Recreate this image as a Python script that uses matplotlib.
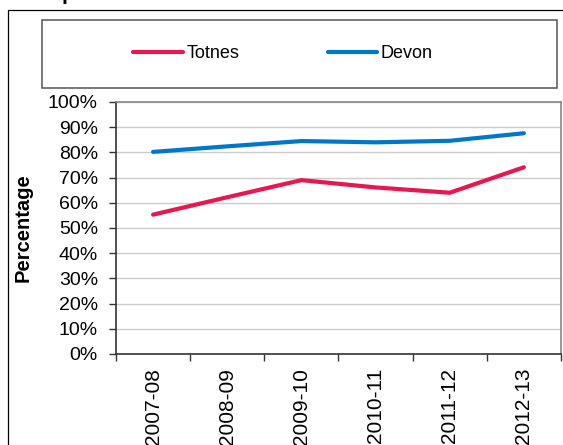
"""
Totnes vs Devon percentage trend, 2007-08 to 2012-13.
"""

import matplotlib.pyplot as plt
from matplotlib.patches import Rectangle
from matplotlib.ticker import FixedLocator

plt.rcParams["font.family"] = ["Liberation Sans", "DejaVu Sans"]

# Values (percent).
YEARS = ["2007-08", "2008-09", "2009-10", "2010-11", "2011-12", "2012-13"]
TOTNES = [55.3, 62.2, 69.0, 66.1, 64.0, 74.1]
DEVON = [80.2, 82.4, 84.5, 84.0, 84.6, 87.6]
Y_TICKS = [0, 10, 20, 30, 40, 50, 60, 70, 80, 90, 100]

W, H = 563, 445
fig = plt.figure(figsize=(W / 100, H / 100), dpi=100)

# Outer chart-area frame (runs off the right/bottom edge in the original).
fig.patches.append(
    Rectangle((8 / W, -0.05), 1.0, 1 - 9.5 / H + 0.05, transform=fig.transFigure,
              facecolor="none", edgecolor="black", linewidth=0.9, clip_on=False)
)
# Legend box.
fig.patches.append(
    Rectangle((42 / W, 1 - 88 / H), (557 - 42) / W, (88 - 20) / H,
              transform=fig.transFigure, facecolor="none",
              edgecolor="#555555", linewidth=1.1)
)
# Title is cut off in the reference; only the descender of its "p" shows.
fig.text(62 / W, 1.0, "p", fontsize=15, weight="bold",
         ha="left", va="baseline")

ax = fig.add_axes([116 / W, 1 - 354 / H, (561 - 116) / W, (354 - 102) / H])

x = list(range(len(YEARS)))
ax.plot(x, TOTNES, color="#e8174f", linewidth=3.0, solid_capstyle="round",
        label="Totnes", zorder=3)
ax.plot(x, DEVON, color="#0077c8", linewidth=3.0, solid_capstyle="round",
        label="Devon", zorder=3)

ax.set_xlim(-0.5, len(YEARS) - 0.5)
ax.set_ylim(0, 100)
ax.set_yticks(Y_TICKS)
ax.set_yticklabels([f"{v}%" for v in Y_TICKS])
ax.set_xticks(x)
ax.set_xticklabels(YEARS, rotation=90, va="top")
ax.xaxis.set_minor_locator(FixedLocator([i - 0.5 for i in range(len(YEARS) + 1)]))

ax.tick_params(axis="x", which="major", length=0, pad=10, labelsize=15)
ax.tick_params(axis="x", which="minor", length=5, width=1.0, color="#333333",
               direction="out")
ax.tick_params(axis="y", length=5, width=1.0, color="#333333", pad=8,
               labelsize=14)

ax.grid(axis="y", color="#cccccc", linewidth=1.0, zorder=0)
ax.set_axisbelow(True)

for side in ("top", "right"):
    ax.spines[side].set_color("#888888")
    ax.spines[side].set_linewidth(1.2)
for side in ("left", "bottom"):
    ax.spines[side].set_color("#333333")
    ax.spines[side].set_linewidth(1.2)

ax.set_ylabel("Percentage", fontsize=14.5, weight="bold")
ax.yaxis.set_label_coords(-(116 - 33) / (561 - 116), 0.5)

fig.legend(loc="center", bbox_to_anchor=(283 / W, 1 - 54 / H), ncol=2,
           frameon=False, fontsize=13, handlelength=2.75, handletextpad=0.2,
           columnspacing=4.9)

fig.savefig("out.png", dpi=100)
